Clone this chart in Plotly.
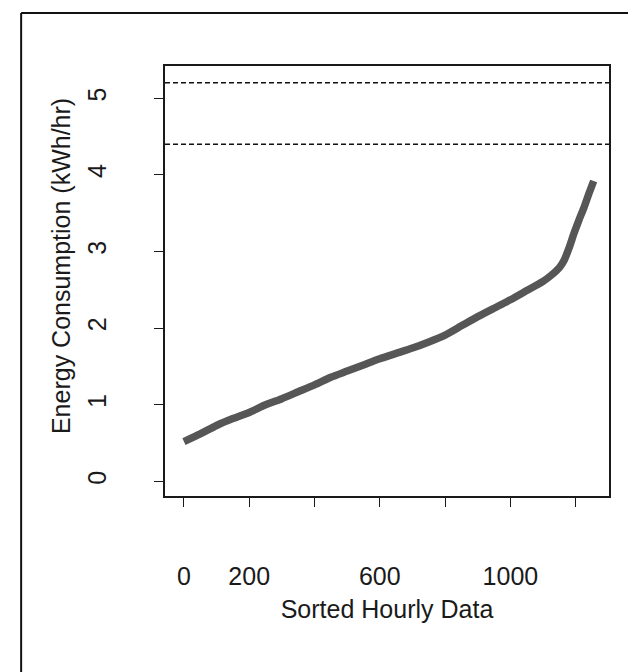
import plotly.graph_objects as go

# Sorted hourly data (index) and energy consumption (kWh/hr)
hours = [0, 50, 100, 150, 200, 250, 300, 350, 400, 450, 500, 550, 600, 650, 700,
         750, 800, 850, 900, 950, 1000, 1050, 1100, 1125, 1150, 1165, 1180, 1195,
         1210, 1225, 1240, 1255]
energy = [0.52, 0.62, 0.73, 0.82, 0.90, 1.00, 1.08, 1.17, 1.26, 1.36, 1.44, 1.52,
          1.60, 1.67, 1.74, 1.82, 1.91, 2.03, 2.15, 2.26, 2.37, 2.49, 2.61, 2.69,
          2.79, 2.89, 3.05, 3.24, 3.41, 3.57, 3.75, 3.92]
thresholds = [5.2, 4.4]

x_tickvals = [0, 200, 400, 600, 800, 1000, 1200]
x_ticktext = ["0", "200", "", "600", "", "1000", ""]
y_tickvals = [0, 1, 2, 3, 4, 5]
y_ticktext = ["0", "1", "2", "3", "4", "5"]

FONT = "Liberation Sans, Arial, Helvetica, sans-serif"

fig = go.Figure()
fig.add_trace(go.Scatter(
    x=hours, y=energy, mode="lines",
    line=dict(color="#565656", width=7.5, shape="spline", smoothing=0.6),
    showlegend=False, hoverinfo="skip"))

shapes = []
for t in thresholds:
    shapes.append(dict(type="line", xref="x domain", yref="y", x0=0, x1=1, y0=t, y1=t,
                       line=dict(color="#111111", width=1.5, dash="5px,3px")))
# outer frame
shapes.append(dict(type="line", xref="paper", yref="paper", x0=-0.324, x1=-0.324,
                   y0=1.123, y1=-0.423, line=dict(color="#111111", width=2)))
shapes.append(dict(type="line", xref="paper", yref="paper", x0=-0.324, x1=1.08,
                   y0=1.123, y1=1.123, line=dict(color="#111111", width=2)))
shapes.append(dict(type="line", xref="paper", yref="paper", x0=1.074, x1=1.074,
                   y0=1.123, y1=-0.423, line=dict(color="#9a9a9a", width=1)))
shapes.append(dict(type="line", xref="paper", yref="paper", x0=-0.324, x1=1.08,
                   y0=-0.421, y1=-0.421, line=dict(color="#9a9a9a", width=1.5)))

fig.update_layout(
    width=636, height=672,
    margin=dict(l=157, r=35, t=58, b=184, pad=0),
    paper_bgcolor="white", plot_bgcolor="white",
    font=dict(family=FONT, size=25, color="#1a1a1a"),
    shapes=shapes,
    annotations=[dict(
        text="Energy Consumption (kWh/hr)", xref="paper", yref="paper",
        x=-0.234, y=0.535, xanchor="center", yanchor="middle", textangle=-90,
        showarrow=False, font=dict(family=FONT, size=25, color="#1a1a1a"))],
    xaxis=dict(
        range=[-58, 1302], showgrid=False, zeroline=False,
        showline=True, mirror=True, linecolor="#1a1a1a", linewidth=1.5,
        ticks="outside", ticklen=9, tickwidth=1.3, tickcolor="#1a1a1a",
        tickmode="array", tickvals=x_tickvals, ticktext=x_ticktext,
        ticklabelstandoff=48,
        title=dict(text="Sorted Hourly Data", standoff=12,
                   font=dict(family=FONT, size=25, color="#1a1a1a")),
    ),
    yaxis=dict(
        range=[-0.19, 5.42], showgrid=False, zeroline=False,
        showline=True, mirror=True, linecolor="#1a1a1a", linewidth=1.5,
        ticks="outside", ticklen=9, tickwidth=1.3, tickcolor="#1a1a1a",
        tickmode="array", tickvals=y_tickvals, ticktext=y_ticktext,
        tickangle=-90, ticklabelstandoff=38,
    ),
)

fig.write_html("out.html")
